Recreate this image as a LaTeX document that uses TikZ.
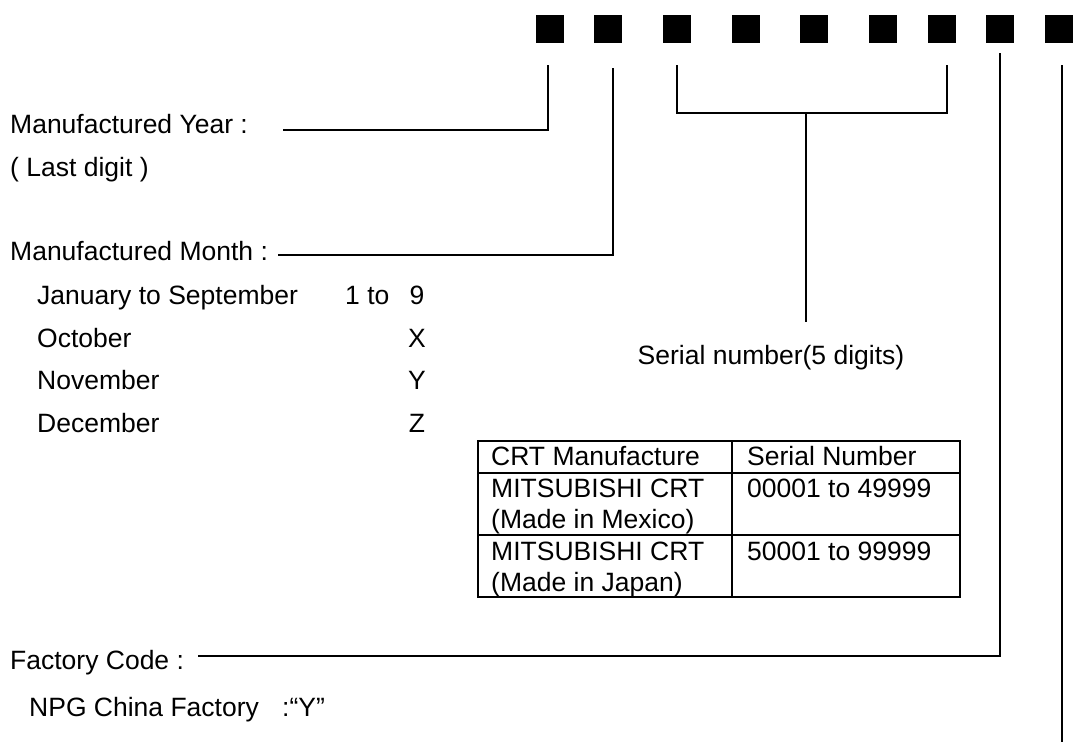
\documentclass[tikz,border=0pt]{standalone}
\usepackage{fontspec}
\setmainfont{Liberation Sans}
\begin{document}
\begin{tikzpicture}[x=1pt,y=-1pt,
  lbl/.style={anchor=base west,inner sep=0pt,font=\fontsize{26.5}{31}\selectfont},
  cntr/.style={anchor=base,inner sep=0pt,font=\fontsize{26.5}{31}\selectfont},
  digit/.style={minimum width=28pt,minimum height=28pt,inner sep=0pt,fill=black,draw=none},
  conn/.style={line width=1.5pt},
  tbl/.style={line width=2pt}]
\useasboundingbox (0,0) rectangle (1074,747);
% digit boxes
\foreach \i/\x in {1/550,2/608,3/677,4/746,5/814,6/883,7/942,8/1000,9/1059}
  \node[digit] (sq\i) at (\x,29) {};
% labels
\node[lbl] (year) at (10,133.5) {Manufactured Year :};
\node[lbl] (last) at (10,176.5) {( Last digit )};
\node[lbl] (month) at (10,260.5) {Manufactured Month :};
\node[lbl] (jan) at (37,304.5) {January to September};
\node[lbl] (oct) at (37,347.5) {October};
\node[lbl] (nov) at (37,389.5) {November};
\node[lbl] (dec) at (37,432.5) {December};
\node[lbl] (oneto) at (345,304.5) {1 to};
\node[cntr] (v9) at (417,304.5) {9};
\node[cntr] (vx) at (417,347.5) {X};
\node[cntr] (vy) at (417,389.5) {Y};
\node[cntr] (vz) at (417,432.5) {Z};
\node[cntr] (serial) at (771,364.5) {Serial number(5 digits)};
\node[lbl] (fact) at (10,669.5) {Factory Code :};
\node[lbl] (npg) at (29,716.5) {NPG China Factory};
\node[lbl] (npgy) at (282,716.5) {:“Y”};
% connectors
\coordinate (y0) at (283,130);
\coordinate (y1) at (548,130);
\coordinate (y2) at (548,65);
\draw[conn] (y0) -- (y1) -- (y2);
\coordinate (m0) at (278,255);
\coordinate (m1) at (613,255);
\coordinate (m2) at (613,68);
\draw[conn] (m0) -- (m1) -- (m2);
\coordinate (b0) at (677,65);
\coordinate (b1) at (677,113);
\coordinate (b2) at (947,113);
\coordinate (b3) at (947,65);
\draw[conn] (b0) -- (b1) -- (b2) -- (b3);
\coordinate (s0) at (806,113);
\coordinate (s1) at (806,322);
\draw[conn] (s0) -- (s1);
\coordinate (f0) at (198,656);
\coordinate (f1) at (1000,656);
\coordinate (f2) at (1000,53);
\draw[conn] (f0) -- (f1) -- (f2);
\coordinate (l0) at (1062,65);
\coordinate (l1) at (1062,742);
\draw[conn] (l0) -- (l1);
% table
\draw[tbl] (478,441) rectangle (960,597);
\draw[tbl] (478,473) -- (960,473);
\draw[tbl] (478,535) -- (960,535);
\draw[tbl] (732,441) -- (732,597);
\node[lbl] (h1) at (491,465.5) {CRT Manufacture};
\node[lbl] (h2) at (747,465.5) {Serial Number};
\node[lbl] (r1a) at (491,497.5) {MITSUBISHI CRT};
\node[lbl] (r1b) at (491,528.5) {(Made in Mexico)};
\node[lbl] (r1c) at (747,497.5) {00001 to 49999};
\node[lbl] (r2a) at (491,560.5) {MITSUBISHI CRT};
\node[lbl] (r2b) at (491,591.5) {(Made in Japan)};
\node[lbl] (r2c) at (747,560.5) {50001 to 99999};
\end{tikzpicture}
\end{document}
